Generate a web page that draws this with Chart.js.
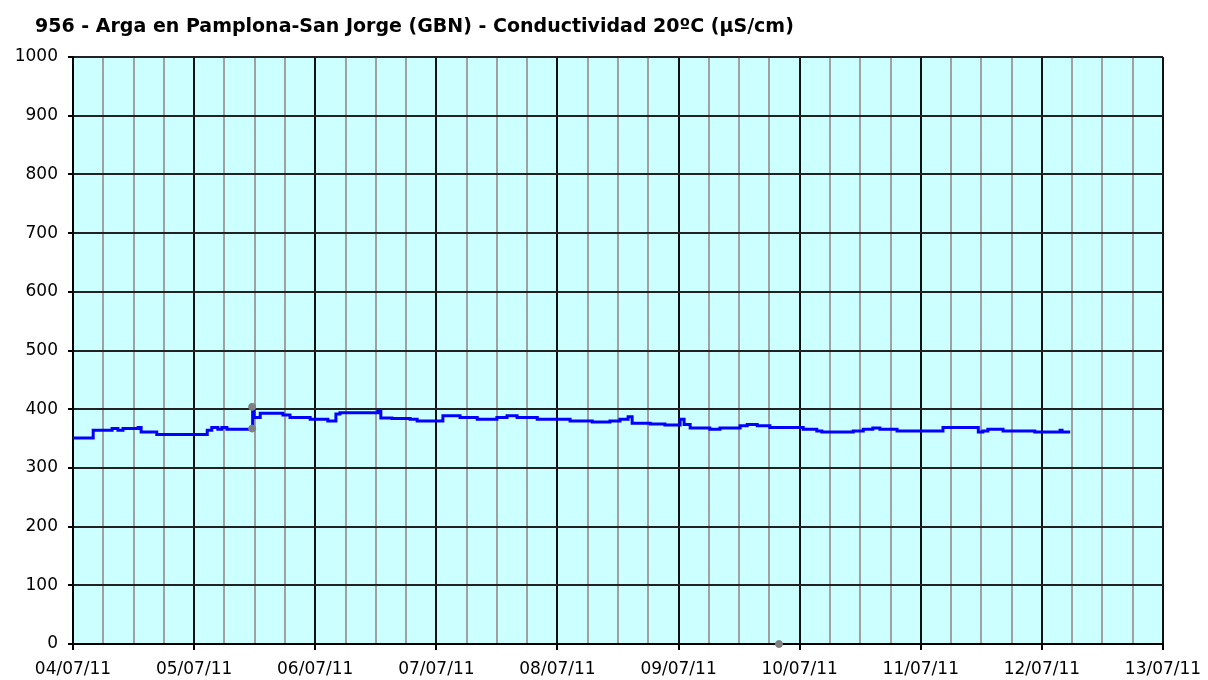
<!DOCTYPE html>
<html>
<head>
<meta charset="utf-8">
<script src="https://cdn.jsdelivr.net/npm/chart.js@4.4.0/dist/chart.umd.min.js"></script>
<style>
  body { margin: 0; background: #fff; }
  #wrap { position: relative; width: 1208px; height: 680px; }
  #title { position: absolute; left: 35px; top: 14px; font: bold 19px "DejaVu Sans", sans-serif; color: #000; white-space: nowrap; }
  canvas { position: absolute; left: 0; top: 0; }
</style>
</head>
<body>
<div id="wrap">
  <canvas id="chart" width="1208" height="680"></canvas>
  <div id="title">956 - Arga en Pamplona-San Jorge (GBN) - Conductividad 20ºC (µS/cm)</div>
</div>
<script>
// hours since 04/07/11 00:00, and conductivity (µS/cm) from that moment on
const hours = [0, 4.0, 7.75, 8.9, 9.9, 12.9, 13.5, 16.6, 26.6, 27.5, 28.7, 29.5, 30.5, 35.6, 35.9,
    37.1, 41.6, 43.0, 47.0, 50.5, 52.1, 52.9, 60.4, 61.0, 63.2, 66.8, 68.2, 73.3, 76.7, 80.1,
    84.0, 86.0, 88.0, 92.0, 98.5, 102.9, 106.4, 108.4, 110.0, 110.8, 114.4, 117.3, 120.3, 121.1, 122.3,
    126.2, 128.2, 132.2, 133.6, 135.6, 138.1, 144.7, 147.4, 148.4, 154.6, 156.6, 158.5, 159.9, 163.3,
    172.4, 179.4, 180.3, 181.3, 184.3, 190.6, 195.6, 196.0, 197.6];
const conductivity = [351, 364, 367, 364, 367, 369, 361, 357, 364, 369, 366, 369, 366, 398, 386,
    393, 390, 386, 383, 380, 392, 394, 396, 385, 384, 383, 380, 389, 386, 383,
    386, 389, 386, 383, 380, 378, 380, 383, 387, 376, 375, 373, 383, 374, 368,
    366, 368, 372, 374, 372, 369, 366, 363, 361, 363, 366, 368, 366, 363,
    369, 361, 363, 366, 363, 361, 364, 361, 361];

// grey single points (invalid readings)
const flagHours = [35.5, 35.5, 139.9];
const flagValues = [404, 367, 0];

const dayLabels = ['04/07/11', '05/07/11', '06/07/11', '07/07/11', '08/07/11',
    '09/07/11', '10/07/11', '11/07/11', '12/07/11', '13/07/11'];

const lineData = hours.map((h, i) => ({ x: h, y: conductivity[i] }));
const flagData = flagHours.map((h, i) => ({ x: h, y: flagValues[i] }));

// cyan plot background
const plotBg = {
    id: 'plotBg',
    beforeDraw(chart) {
        const a = chart.chartArea;
        const ctx = chart.ctx;
        ctx.save();
        ctx.fillStyle = '#CCFFFF';
        ctx.fillRect(a.left, a.top, a.right - a.left, a.bottom - a.top);
        ctx.restore();
    }
};

const isDay = v => Math.abs(v % 24) < 0.001;

new Chart(document.getElementById('chart'), {
    type: 'line',
    data: {
        datasets: [{
            data: lineData,
            borderColor: '#0000FF',
            borderWidth: 3,
            stepped: 'before',
            pointRadius: 0,
            fill: false,
            order: 1
        }, {
            data: flagData,
            showLine: false,
            pointRadius: 3.5,
            pointBackgroundColor: '#808080',
            pointBorderColor: '#808080',
            clip: false,
            order: 0
        }]
    },
    options: {
        responsive: false,
        animation: false,
        layout: { padding: { top: 57, right: 45, left: 0, bottom: 0 } },
        plugins: {
            legend: { display: false },
            tooltip: { enabled: false }
        },
        scales: {
            x: {
                type: 'linear',
                min: 0,
                max: 216,
                afterFit: s => { s.height = 36; s.paddingLeft = 0; s.paddingRight = 0; },
                ticks: {
                    stepSize: 6,
                    autoSkip: false,
                    maxRotation: 0,
                    padding: 9,
                    color: '#000',
                    font: { family: 'DejaVu Sans', size: 17 },
                    callback: v => isDay(v) ? dayLabels[v / 24] : ''
                },
                grid: {
                    color: c => (c.tick && isDay(c.tick.value)) ? '#111' : '#A0A0A0',
                    tickColor: c => (c.tick && isDay(c.tick.value)) ? '#000' : 'rgba(0,0,0,0)',
                    lineWidth: 2,
                    tickLength: 6
                },
                border: { color: '#000', width: 2 }
            },
            y: {
                min: 0,
                max: 1000,
                afterFit: s => { s.width = 73; },
                ticks: {
                    stepSize: 100,
                    padding: 10,
                    color: '#000',
                    font: { family: 'DejaVu Sans', size: 17 },
                    callback: v => String(v)
                },
                grid: {
                    color: '#222',
                    tickColor: '#000',
                    lineWidth: 2,
                    tickLength: 5
                },
                border: { color: '#000', width: 2 }
            }
        }
    },
    plugins: [plotBg]
});
</script>
</body>
</html>
